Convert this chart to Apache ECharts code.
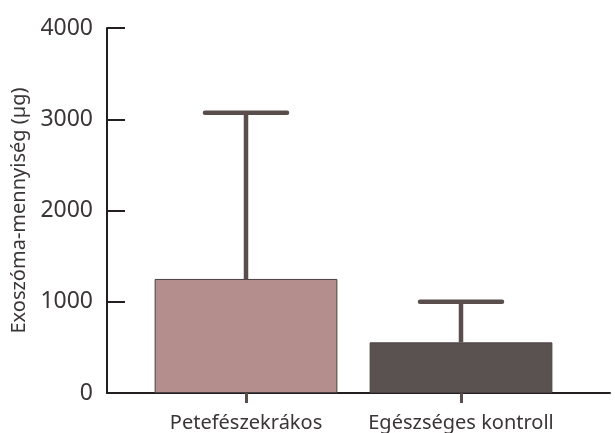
<!DOCTYPE html>
<html>
<head>
<meta charset="utf-8">
<script src="https://cdn.jsdelivr.net/npm/echarts@6/dist/echarts.min.js"></script>
<style>
  html, body { margin: 0; padding: 0; background: #ffffff; }
  #chart { width: 615px; height: 433px; }
</style>
</head>
<body>
<div id="chart"></div>
<script>
// Exosome quantity by group: mean and upper error limit
const categories = ['Petefészekrákos', 'Egészséges kontroll'];
const means = [1250, 555];
const upperLimits = [3070, 1000];
const yTicks = [0, 1000, 2000, 3000, 4000];
const barColors = ['#b38e8c', '#5a5250'];

const FONT = 'Noto Sans';
const INK = '#231f20';
const TEXT = '#3a3536';
const ERR = '#5a4e4c';

const chart = echarts.init(document.getElementById('chart'), null, { renderer: 'canvas' });

chart.setOption({
  animation: false,
  backgroundColor: '#ffffff',
  grid: [
    { left: 138.5, right: 46.5, top: 28, bottom: 40 },
    { left: 107, right: 5, top: 28, bottom: 40 }
  ],
  xAxis: [
    {
      type: 'category',
      gridIndex: 0,
      data: categories,
      axisLine: { show: false },
      axisTick: { show: true, interval: 0, alignWithLabel: true, length: 10, lineStyle: { color: ERR, width: 3 } },
      axisLabel: { interval: 0, hideOverlap: false, color: TEXT, fontFamily: FONT, fontSize: 20, margin: 20 }
    },
    {
      type: 'value',
      gridIndex: 1,
      min: 0, max: 1,
      axisLine: { show: true, onZero: false, lineStyle: { color: INK, width: 2 } },
      axisTick: { show: false },
      axisLabel: { show: false },
      splitLine: { show: false }
    }
  ],
  yAxis: [
    {
      type: 'value',
      gridIndex: 0,
      min: yTicks[0],
      max: yTicks[yTicks.length - 1],
      interval: 1000,
      offset: 31.5,
      name: 'Exoszóma-mennyiség (µg)',
      nameLocation: 'middle',
      nameGap: 77,
      nameTextStyle: { color: TEXT, fontFamily: FONT, fontSize: 20 },
      axisLine: { show: true, lineStyle: { color: INK, width: 2 } },
      axisTick: { show: true, inside: true, length: 18, lineStyle: { color: INK, width: 2 } },
      axisLabel: { color: TEXT, fontFamily: FONT, fontSize: 23, margin: 14, formatter: v => String(v) },
      splitLine: { show: false }
    },
    {
      type: 'value',
      gridIndex: 1,
      show: false,
      min: 0, max: 1
    }
  ],
  series: [
    {
      type: 'bar',
      xAxisIndex: 0,
      yAxisIndex: 0,
      barWidth: '85%',
      data: means.map((v, i) => ({
        value: v,
        itemStyle: { color: barColors[i], borderColor: '#4a4040', borderWidth: 1 }
      })),
      z: 2
    },
    {
      type: 'custom',
      xAxisIndex: 0,
      yAxisIndex: 0,
      z: 3,
      data: means.map((v, i) => [i, v, upperLimits[i]]),
      renderItem: function (params, api) {
        const base = api.coord([api.value(0), api.value(1)]);
        const top = api.coord([api.value(0), api.value(2)]);
        const capHalf = 41;
        const style = { stroke: ERR, lineWidth: 4.5 };
        return {
          type: 'group',
          children: [
            { type: 'line', shape: { x1: base[0], y1: base[1], x2: top[0], y2: top[1] }, style: style },
            { type: 'line', shape: { x1: top[0] - capHalf, y1: top[1], x2: top[0] + capHalf, y2: top[1] }, style: Object.assign({ lineCap: 'round' }, style) }
          ]
        };
      }
    }
  ]
});
</script>
</body>
</html>
